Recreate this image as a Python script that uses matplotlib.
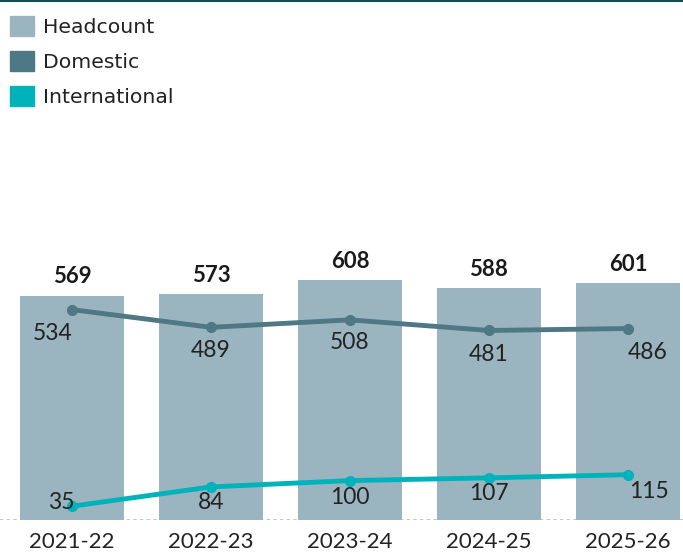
import matplotlib.pyplot as plt
from matplotlib.patches import Patch

years = ["2021-22", "2022-23", "2023-24", "2024-25", "2025-26"]
headcount = [569, 573, 608, 588, 601]
domestic = [534, 489, 508, 481, 486]
international = [35, 84, 100, 107, 115]

c_head = "#9bb5c0"
c_dom = "#4d7884"
c_int = "#00b3bb"
num_font = "Lato"

fig = plt.figure(figsize=(6.83, 5.54), dpi=100)
ax = fig.add_axes([0, 1 - 520 / 554, 1, 520 / 554])

x = list(range(len(years)))
ax.bar(x, headcount, width=0.75, color=c_head, zorder=1)
ax.plot(x, domestic, color=c_dom, lw=3.5, marker="o", ms=7, zorder=3)
ax.plot(x, international, color=c_int, lw=3.5, marker="o", ms=7, zorder=3)

for i, v in enumerate(headcount):
    ax.annotate(str(v), (i, v), xytext=(0, 6), textcoords="offset points",
                ha="center", va="bottom", fontsize=16, fontweight="bold",
                family=num_font, color="#1a1a1a")

# label offsets (points), roughly as placed in the original
dom_off = [(-14, -17), (0, -17), (0, -16), (0, -17), (14, -17)]
int_off = [(-8, 3), (0, -11), (0, -12), (0, -11), (15, -12)]
for i, v in enumerate(domestic):
    ax.annotate(str(v), (i, v), xytext=dom_off[i], textcoords="offset points",
                ha="center", va="center", fontsize=16.5, family=num_font,
                color="#222222")
for i, v in enumerate(international):
    ax.annotate(str(v), (i, v), xytext=int_off[i], textcoords="offset points",
                ha="center", va="center", fontsize=16.5, family=num_font,
                color="#222222")

ax.set_xlim(-0.518, 4.396)
ax.set_ylim(0, 520 / 0.394)
ax.axhline(0, color="#bbbbbb", lw=1.2, ls=(0, (2, 2)), zorder=0)
for s in ax.spines.values():
    s.set_visible(False)
ax.set_yticks([])
ax.set_xticks(x)
ax.set_xticklabels(years, fontsize=16, family=num_font, color="#222222")
ax.tick_params(axis="x", length=0, pad=9)

fig.add_artist(plt.Line2D([0, 1], [0.999, 0.999], color="#0d4b55", lw=1.5))

handles = [Patch(color=c_head, label="Headcount"),
           Patch(color=c_dom, label="Domestic"),
           Patch(color=c_int, label="International")]
fig.legend(handles=handles, loc="upper left", bbox_to_anchor=(0.0, 0.99),
           frameon=False, fontsize=14.7, handlelength=1.15, handleheight=1.15,
           handletextpad=0.45, labelspacing=0.68, borderaxespad=0.3,
           borderpad=0.2, labelcolor="#222222")

fig.savefig("out.png", dpi=100)
